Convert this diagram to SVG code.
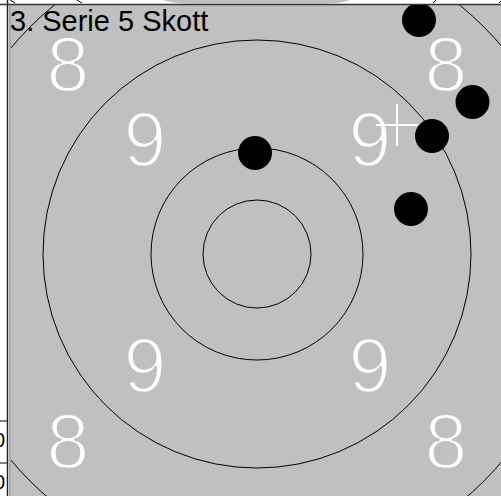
<svg xmlns="http://www.w3.org/2000/svg" width="501" height="496" viewBox="0 0 501 496">
<style>
.ring{fill:none;stroke:#000;stroke-width:1}
.num{fill:#fff;stroke:#c0c0c0;stroke-width:2.4;paint-order:normal;font-family:"Liberation Sans",Arial,sans-serif;font-size:77px;text-anchor:middle}
.shot{fill:#000}
.cell{font-family:"Liberation Sans",Arial,sans-serif;font-size:20px;fill:#000;text-anchor:end}
</style>
<defs>
<clipPath id="panel"><rect x="11" y="5" width="490" height="491"/></clipPath>
</defs>
<rect width="501" height="496" fill="#fff"/>
<g id="prev-panel">
<path d="M163,0 Q172,3.5 195,3.5 L320,3.5 Q342,3.5 350,0 Z" fill="#c0c0c0"/>
<path d="M10,0 L15,3 M77,0 L82,3 M433,3 L436,0 M499,3 L501,1" stroke="#000" stroke-width="1" fill="none"/>
</g>
<g id="left-table">
<path d="M0,421 H7 M0,463 H7" stroke="#000" stroke-width="1"/>
<text class="cell" x="5" y="447">0</text>
<text class="cell" x="5" y="489">0</text>
</g>
<g id="frame">
<rect x="11" y="5" width="490" height="491" fill="#c0c0c0"/>
<line x1="0" y1="4.5" x2="501" y2="4.5" stroke="#333" stroke-width="1.5"/>
<line x1="7.5" y1="0" x2="7.5" y2="496" stroke="#222" stroke-width="1.5"/>
<line x1="10" y1="4" x2="10" y2="496" stroke="#555" stroke-width="1"/>
</g>
<g id="target" clip-path="url(#panel)">
<circle class="ring" cx="257" cy="254" r="321"/>
<circle class="ring" cx="257" cy="254" r="214"/>
<circle class="ring" cx="257" cy="254" r="106"/>
<circle class="ring" cx="257" cy="254" r="54"/>
<g id="labels">
<text class="num" x="68" y="91">8</text>
<text class="num" x="446" y="91">8</text>
<text class="num" x="68" y="468">8</text>
<text class="num" x="446" y="468">8</text>
<text class="num" x="145" y="166">9</text>
<text class="num" x="370" y="166">9</text>
<text class="num" x="145" y="392">9</text>
<text class="num" x="370" y="392">9</text>
</g>
<g id="cross">
<path d="M397,104 V146 M376,125 H418" stroke="#fff" stroke-width="2" fill="none"/>
</g>
<g id="shots">
<circle id="shot1" class="shot" cx="419" cy="20" r="17"/>
<circle id="shot2" class="shot" cx="472.5" cy="102" r="17"/>
<circle id="shot3" class="shot" cx="432" cy="136" r="17"/>
<circle id="shot4" class="shot" cx="411" cy="209" r="17"/>
<circle id="shot5" class="shot" cx="255" cy="153" r="17"/>
</g>
</g>
<g id="title">
<text x="10" y="31" font-family="Liberation Sans, Arial, sans-serif" font-size="29" fill="#000">3. Serie 5 Skott</text>
</g>
</svg>
